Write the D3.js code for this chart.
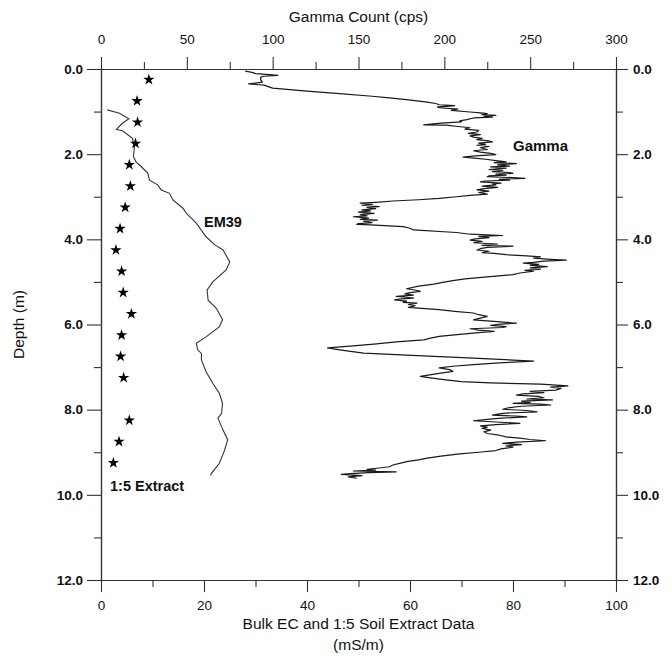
<!DOCTYPE html>
<html><head><meta charset="utf-8">
<script src="https://cdn.jsdelivr.net/npm/d3@7"></script>
<style>
html,body{margin:0;padding:0;background:#fff;}
svg{display:block;font-family:"Liberation Sans",Arial,Helvetica,sans-serif;}
</style></head>
<body><svg id="chart" width="672" height="664"></svg>
<script>
// ---- data ----
const depthTicks = [0, 2, 4, 6, 8, 10, 12];
const depthMinorTicks = [1, 3, 5, 7, 9, 11];
const ecTicks = [0, 20, 40, 60, 80, 100];
const ecMinorTicks = [10, 30, 50, 70, 90];
const gammaTicks = [0, 50, 100, 150, 200, 250, 300];
const gammaMinorTicks = [25, 75, 125, 175, 225, 275];

// 1:5 soil extract (mS/m) vs depth (m)
const extractDepth = [0.25,0.75,1.25,1.75,2.25,2.75,3.25,3.75,4.25,4.75,5.25,5.75,6.25,6.75,7.25,8.25,8.75,9.25];
const extractEC    = [9.3,7.0,7.1,6.7,5.5,5.7,4.7,3.7,2.9,4.0,4.3,5.9,4.0,3.8,4.4,5.5,3.5,2.4];

// EM39 bulk EC (mS/m) vs depth (m)
const em39Depth = [0.96,1.04,1.17,1.28,1.42,1.45,1.63,1.82,2.06,2.18,2.29,2.45,2.61,2.72,2.84,2.92,3.08,3.27,3.39,3.62,3.94,4.13,4.25,4.53,4.72,5.00,5.19,5.43,5.62,5.89,6.05,6.29,6.44,6.60,6.68,6.83,7.11,7.38,7.62,7.85,8.09,8.20,8.48,8.71,8.95,9.26,9.50,9.55];
const em39EC    = [1.2,3.6,5.4,4.1,3.0,4.2,6.1,6.5,6.3,6.8,7.8,9.1,9.4,11.0,11.7,13.3,14.0,15.9,16.6,18.5,20.4,22.1,23.7,25.0,24.3,21.7,20.6,20.8,22.4,23.6,23.0,20.4,18.5,18.8,19.5,19.5,20.4,21.7,23.0,23.6,23.4,22.7,23.7,24.6,24.0,23.0,21.4,21.3];

// Gamma count (cps) vs depth (m)
const gammaDepth = [0.05,0.08,0.11,0.13,0.15,0.17,0.19,0.25,0.31,0.33,0.35,0.37,0.38,0.45,0.52,0.58,0.64,0.68,0.72,0.75,0.78,0.81,0.84,0.86,0.87,0.89,0.91,0.94,0.97,1.01,1.03,1.05,1.07,1.09,1.11,1.13,1.15,1.19,1.22,1.24,1.27,1.31,1.32,1.35,1.38,1.41,1.44,1.48,1.51,1.54,1.57,1.60,1.63,1.66,1.69,1.71,1.74,1.77,1.79,1.82,1.85,1.89,1.92,1.95,1.98,2.01,2.04,2.07,2.10,2.12,2.15,2.18,2.20,2.22,2.25,2.28,2.30,2.33,2.36,2.38,2.41,2.43,2.45,2.47,2.49,2.51,2.53,2.55,2.57,2.59,2.61,2.63,2.65,2.68,2.70,2.72,2.75,2.78,2.81,2.84,2.87,2.90,2.94,2.97,3.00,3.04,3.07,3.10,3.13,3.15,3.18,3.20,3.23,3.25,3.28,3.31,3.33,3.36,3.39,3.42,3.45,3.47,3.50,3.53,3.55,3.58,3.61,3.63,3.65,3.66,3.70,3.74,3.78,3.84,3.88,3.91,3.93,3.96,3.99,4.02,4.05,4.08,4.11,4.14,4.16,4.19,4.22,4.25,4.28,4.31,4.33,4.36,4.39,4.41,4.44,4.47,4.49,4.51,4.54,4.56,4.59,4.61,4.64,4.67,4.70,4.73,4.75,4.79,4.83,4.88,4.93,4.97,5.01,5.05,5.10,5.16,5.19,5.22,5.25,5.28,5.31,5.34,5.36,5.38,5.40,5.42,5.45,5.48,5.50,5.53,5.56,5.60,5.65,5.69,5.73,5.77,5.81,5.85,5.89,5.92,5.95,5.97,5.99,6.02,6.05,6.07,6.10,6.13,6.16,6.19,6.22,6.28,6.32,6.36,6.41,6.46,6.51,6.55,6.60,6.67,6.72,6.79,6.86,6.90,6.94,6.98,7.02,7.06,7.10,7.16,7.22,7.26,7.30,7.34,7.37,7.40,7.44,7.47,7.50,7.54,7.57,7.60,7.63,7.66,7.69,7.72,7.75,7.77,7.80,7.83,7.85,7.87,7.89,7.92,7.95,7.99,8.02,8.05,8.08,8.10,8.13,8.15,8.17,8.20,8.23,8.26,8.29,8.32,8.35,8.38,8.41,8.44,8.48,8.52,8.56,8.60,8.64,8.67,8.70,8.73,8.76,8.79,8.82,8.85,8.88,8.92,8.96,9.00,9.04,9.09,9.14,9.18,9.22,9.26,9.30,9.34,9.37,9.40,9.42,9.44,9.46,9.48,9.50,9.52,9.55,9.58,9.61];
const gammaCps   = [84,88,90,98,103,95,93,93,94,90,86,92,95,100,120,139,158,168,178,184,190,195,197,206,203,196,197,208,204,215,221,225,222,230,223,228,217,213,209,210,198,188,201,208,215,212,220,219,214,221,215,217,222,219,226,228,220,224,219,226,221,225,217,221,227,230,218,211,219,224,230,236,229,242,231,238,227,236,226,234,228,238,240,230,236,226,225,240,247,232,238,224,221,233,228,230,222,231,223,219,226,220,225,215,207,197,185,170,160,151,158,152,162,155,160,152,157,150,159,151,155,147,156,151,161,153,158,150,149,157,176,180,182,207,215,234,220,226,218,215,222,217,231,222,240,225,221,219,226,222,229,236,248,256,252,262,271,258,252,246,255,250,260,250,256,247,252,244,240,225,212,205,199,194,185,178,183,186,180,177,182,172,178,182,175,171,178,176,184,179,183,179,197,206,217,220,225,221,217,227,236,242,233,227,236,234,215,220,229,220,212,197,192,188,172,159,145,132,140,153,178,217,252,232,217,205,197,203,205,195,186,193,201,210,227,256,272,262,268,265,250,258,246,242,255,258,248,263,245,250,240,256,262,245,238,234,248,254,236,232,228,242,248,233,225,217,230,244,230,221,225,222,227,223,225,232,236,244,250,259,242,234,245,236,240,233,230,220,209,198,190,185,178,174,170,168,162,155,160,147,172,156,145,140,152,144,149];

// ---- layout ----
const svg = d3.select("#chart");
const L = 101, R = 616, T = 69, B = 580;
const axisColor = "#333";
const inkColor = "#1a1a1a";

const y = d3.scaleLinear().domain([0, 12]).range([T, B]);
const xEC = d3.scaleLinear().domain([0, 100]).range([L, R]);
const xG = d3.scaleLinear().domain([0, 300]).range([L, R]);

function styleAxis(g, bold, size) {
  g.select(".domain").attr("stroke", axisColor).attr("stroke-width", 1.2);
  g.selectAll(".tick line").attr("stroke", axisColor).attr("stroke-width", 1.1);
  g.selectAll(".tick text").attr("fill", "#111")
    .style("font-size", size + "px")
    .style("font-weight", bold ? "bold" : "normal")
    .style("font-family", '"Liberation Sans",Arial,sans-serif');
}

// left axis
const gl = svg.append("g").attr("transform", `translate(${L},0)`)
  .call(d3.axisLeft(y).tickValues(depthTicks).tickFormat(d3.format(".1f")).tickSize(14).tickSizeOuter(0).tickPadding(4));
styleAxis(gl, true, 13.5);
const glm = svg.append("g").attr("transform", `translate(${L},0)`)
  .call(d3.axisLeft(y).tickValues(depthMinorTicks).tickFormat("").tickSize(7).tickSizeOuter(0));
styleAxis(glm, false, 12);

// right axis
const gr = svg.append("g").attr("transform", `translate(${R},0)`)
  .call(d3.axisRight(y).tickValues(depthTicks).tickFormat(d3.format(".1f")).tickSize(12).tickSizeOuter(0).tickPadding(5));
styleAxis(gr, true, 13.5);
const grm = svg.append("g").attr("transform", `translate(${R},0)`)
  .call(d3.axisRight(y).tickValues(depthMinorTicks).tickFormat("").tickSize(7).tickSizeOuter(0));
styleAxis(grm, false, 12);

// top axis (gamma)
const gt = svg.append("g").attr("transform", `translate(0,${T})`)
  .call(d3.axisTop(xG).tickValues(gammaTicks).tickFormat(d3.format("d")).tickSize(12).tickSizeOuter(0).tickPadding(13));
styleAxis(gt, false, 13.5);
const gtm = svg.append("g").attr("transform", `translate(0,${T})`)
  .call(d3.axisTop(xG).tickValues(gammaMinorTicks).tickFormat("").tickSize(7).tickSizeOuter(0));
styleAxis(gtm, false, 12);

// bottom axis (EC)
const gb = svg.append("g").attr("transform", `translate(0,${B})`)
  .call(d3.axisBottom(xEC).tickValues(ecTicks).tickFormat(d3.format("d")).tickSize(12).tickSizeOuter(0).tickPadding(8));
styleAxis(gb, false, 13.5);
const gbm = svg.append("g").attr("transform", `translate(0,${B})`)
  .call(d3.axisBottom(xEC).tickValues(ecMinorTicks).tickFormat("").tickSize(7).tickSizeOuter(0));
styleAxis(gbm, false, 12);

// axis titles
const font = '"Liberation Sans",Arial,sans-serif';
svg.append("text").attr("x", (L + R) / 2).attr("y", 22).attr("text-anchor", "middle")
  .style("font-size", "15.5px").style("font-family", font).attr("fill", "#111").text("Gamma Count (cps)");
svg.append("text").attr("x", (L + R) / 2).attr("y", 629).attr("text-anchor", "middle")
  .style("font-size", "15.5px").style("font-family", font).attr("fill", "#111").text("Bulk EC and 1:5 Soil Extract Data");
svg.append("text").attr("x", (L + R) / 2).attr("y", 650).attr("text-anchor", "middle")
  .style("font-size", "15.5px").style("font-family", font).attr("fill", "#111").text("(mS/m)");
svg.append("text").attr("transform", `translate(24,${(T + B) / 2}) rotate(-90)`).attr("text-anchor", "middle")
  .style("font-size", "15.5px").style("font-family", font).attr("fill", "#111").text("Depth (m)");

// EM39 line
const em39 = em39Depth.map((d, i) => [em39EC[i], d]);
svg.append("path").datum(em39)
  .attr("d", d3.line().x(d => xEC(d[0])).y(d => y(d[1])))
  .attr("fill", "none").attr("stroke", "#333").attr("stroke-width", 1.1);

// Gamma line
const gamma = gammaDepth.map((d, i) => [gammaCps[i], d]);
svg.append("path").datum(gamma)
  .attr("d", d3.line().x(d => xG(d[0])).y(d => y(d[1])))
  .attr("fill", "none").attr("stroke", inkColor).attr("stroke-width", 1.2).attr("stroke-linejoin", "round");

// 1:5 extract stars
svg.append("g").selectAll("path").data(extractDepth.map((d, i) => [extractEC[i], d])).join("path")
  .attr("transform", d => `translate(${xEC(d[0])},${y(d[1])})`)
  .attr("d", d3.symbol().type(d3.symbolStar).size(40))
  .attr("fill", "#000");

// annotations
svg.append("text").attr("x", 204).attr("y", 227).style("font-size", "14.5px").style("font-weight", "bold")
  .style("font-family", font).attr("fill", "#111").text("EM39");
svg.append("text").attr("x", 513).attr("y", 151).style("font-size", "15px").style("font-weight", "bold")
  .style("font-family", font).attr("fill", "#111").text("Gamma");
svg.append("text").attr("x", 110).attr("y", 491).style("font-size", "14.5px").style("font-weight", "bold")
  .style("font-family", font).attr("fill", "#111").text("1:5 Extract");
</script>
</body></html>
